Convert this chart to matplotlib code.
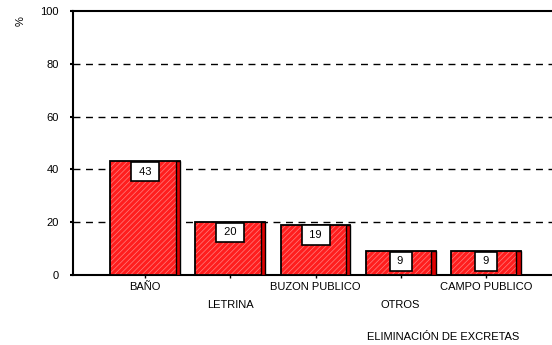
import numpy as np
import matplotlib
matplotlib.use('Agg')
import matplotlib.pyplot as plt

plt.rcParams['font.family'] = ['Liberation Sans', 'DejaVu Sans']
plt.rcParams['hatch.linewidth'] = 0.5

categorias = ['BAÑO', 'LETRINA', 'BUZON PUBLICO', 'OTROS', 'CAMPO PUBLICO']
valores = [43, 20, 19, 9, 9]
yticks = [0, 20, 40, 60, 80, 100]

fig = plt.figure(figsize=(5.52, 3.45), dpi=100)
ax = fig.add_axes([0.132, 0.203, 0.87, 0.765])

x = np.arange(len(categorias))
ancho = 0.82
# relleno rojo con rayado claro, luego el contorno negro encima
ax.bar(x, valores, width=ancho, color='#ff1e1e', edgecolor='#ff8080',
       linewidth=0, hatch='//////', zorder=3)
ax.bar(x, valores, width=ancho, fill=False, edgecolor='black',
       linewidth=1.3, zorder=4)
# borde lateral más oscuro (efecto 3D)
ax.bar(x + ancho / 2 - 0.025, valores, width=0.05, color='#e00000',
       edgecolor='black', linewidth=1.0, zorder=4)

for xi, v in zip(x, valores):
    ax.text(xi, v - 3.8, f' {v} ', ha='center', va='center', fontsize=8,
            zorder=5, bbox=dict(boxstyle='square,pad=0.42', fc='white',
                                ec='black', lw=1.2))

for yv in yticks[1:-1]:
    ax.axhline(yv, color='black', linestyle=(0, (5, 4)), linewidth=1.0, zorder=1)

ax.set_xlim(-0.85, 4.79)
ax.set_ylim(0, 100)
ax.set_yticks(yticks)
ax.tick_params(axis='y', labelsize=8, length=2, width=1.5, pad=8)
ax.set_xticks(x)
ax.set_xticklabels([''] * len(categorias))
ax.tick_params(axis='x', length=2, width=1)

for i, (xi, c) in enumerate(zip(x, categorias)):
    dy = -0.027 if i % 2 == 0 else -0.095
    ax.text(xi, dy, c, transform=ax.get_xaxis_transform(), ha='center',
            va='top', fontsize=8)

for s in ['left', 'bottom', 'top']:
    ax.spines[s].set_linewidth(1.5)
ax.spines['right'].set_visible(False)

fig.text(0.038, 0.94, '%', rotation=90, ha='center', va='center', fontsize=8)
fig.text(0.803, 0.023, 'ELIMINACIÓN DE EXCRETAS', ha='center', va='center',
         fontsize=8)

fig.savefig('out.png', dpi=100)
